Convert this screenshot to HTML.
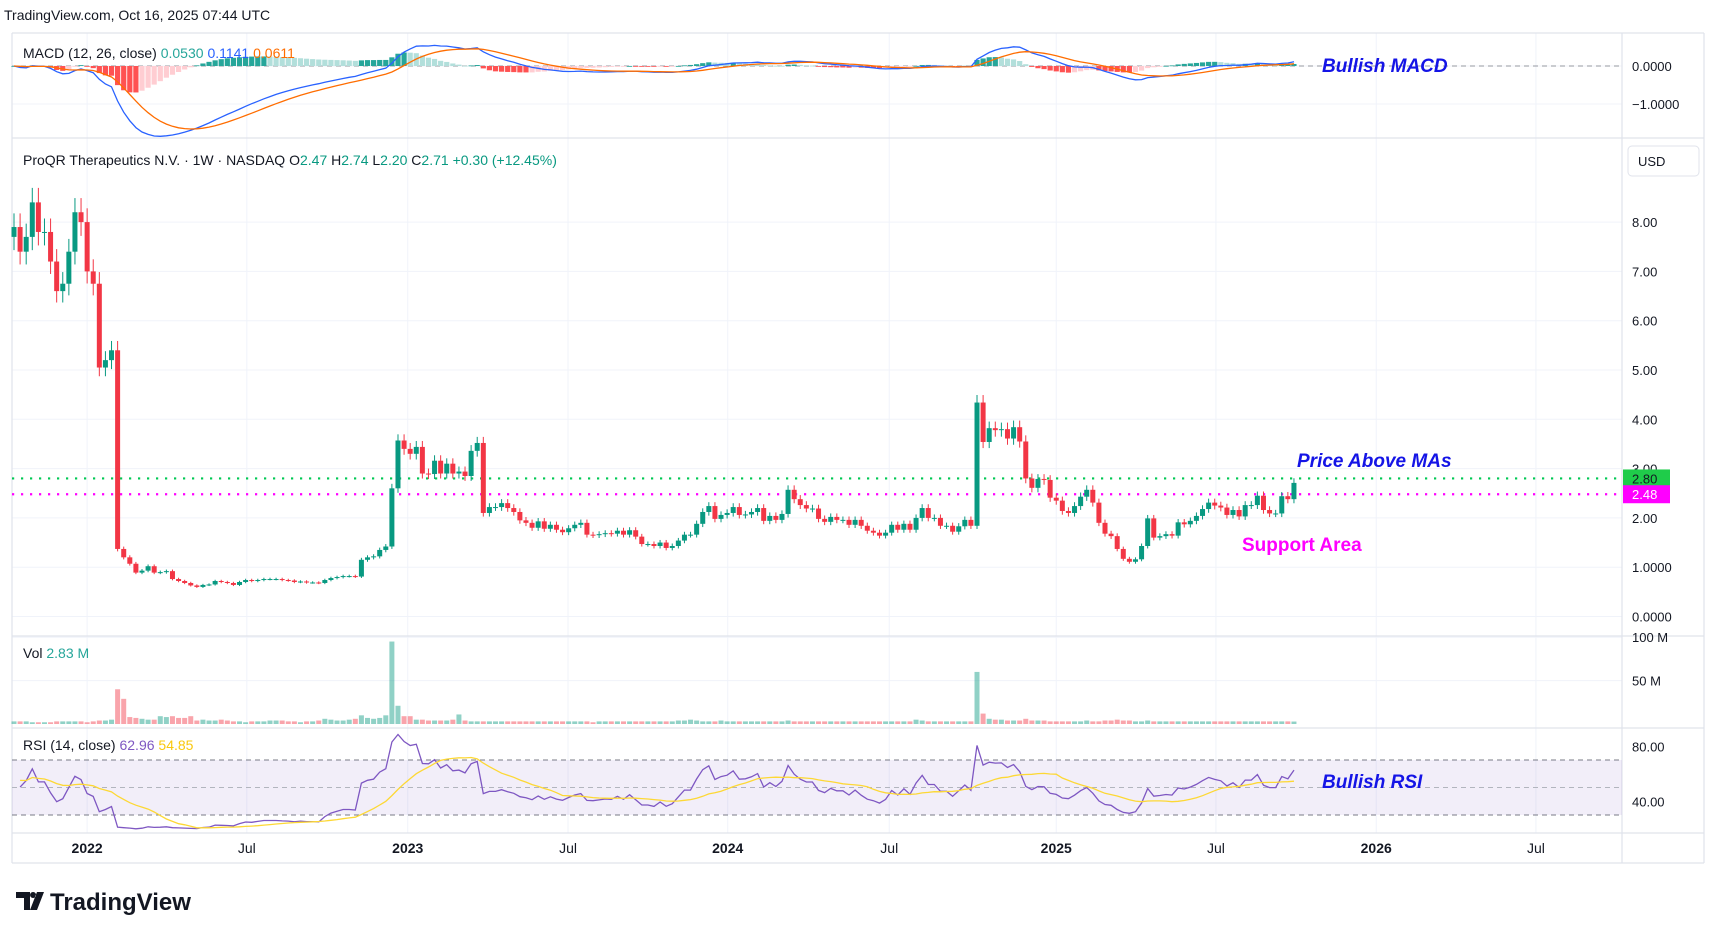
<!DOCTYPE html>
<html><head><meta charset="utf-8">
<style>
html,body{margin:0;padding:0;background:#fff;}
svg{display:block;font-family:"Liberation Sans",sans-serif;}
</style></head>
<body>
<svg id="chart" width="1717" height="938" viewBox="0 0 1717 938" xmlns="http://www.w3.org/2000/svg">
<rect x="0" y="0" width="1717" height="938" fill="#ffffff"/>
<text x="4" y="20" font-size="14" fill="#131722">TradingView.com, Oct 16, 2025 07:44 UTC</text>
<g id="grid"></g>
<g id="panes"></g>
<g id="marks"></g>
<g id="labels"></g>
</svg>
<script>
// ---- data ----
const closes = [7.9,7.4,7.7,8.4,7.8,7.8,7.2,6.6,6.75,7.4,8.2,8.0,7.0,6.75,5.05,5.2,5.4,1.37,1.2,1.07,0.89,0.93,1.02,0.89,0.9,0.92,0.76,0.72,0.68,0.63,0.6,0.64,0.65,0.72,0.7,0.68,0.64,0.7,0.74,0.72,0.74,0.76,0.76,0.76,0.74,0.73,0.7,0.71,0.69,0.69,0.68,0.74,0.78,0.8,0.82,0.82,0.81,1.15,1.2,1.22,1.35,1.42,2.6,3.57,3.4,3.3,
3.44,2.9,2.89,3.16,2.9,3.1,2.9,2.94,2.85,3.36,3.52,2.1,2.22,2.22,2.3,2.2,2.12,1.95,1.9,1.8,1.93,1.78,1.86,1.76,1.71,1.79,1.86,1.9,1.66,1.65,1.67,1.69,1.68,1.74,1.66,1.75,1.62,1.47,1.47,1.43,1.5,1.39,1.43,1.54,1.66,1.66,1.88,2.12,2.24,1.98,2.06,2.1,2.22,
2.06,2.07,2.12,2.2,1.94,2.04,1.96,2.08,2.57,2.38,2.26,2.19,2.19,1.98,1.92,2.02,1.96,1.96,1.86,1.96,1.84,1.74,1.7,1.64,1.7,1.86,1.76,1.88,1.76,2.0,2.2,2.0,2.0,1.84,1.84,1.72,1.83,1.96,1.84,4.34,3.54,3.82,3.78,3.8,3.61,3.84,3.55,2.8,2.61,2.79,
2.77,2.41,2.35,2.14,2.1,2.24,2.43,2.57,2.31,1.9,1.68,1.63,1.37,1.17,1.11,1.16,1.43,1.99,1.6,1.63,1.67,1.64,1.91,1.87,1.94,2.04,2.18,2.31,2.25,2.21,2.06,2.16,2.03,2.26,2.26,2.45,2.16,2.09,2.09,2.44,2.38,2.71];
const volumes = [3,3,3,2,2,2,2,3,3,3, 3,3,2,3,4,4,5,40,29,8, 7,6,5,5,9,8,9,7,7,9, 4,5,4,4,5,4,3,3,2,3, 3,3,4,4,4,3,3,2,3,3, 4,6,5,4,4,5,6,10,7,6, 7,10,95,21,9,9,
5,5,4,4,4,4,5,11,4,3, 3,3,3,3,3,3,3,3,3,3, 3,3,3,3,3,3,3,3,3,2, 3,3,3,3,3,3,3,3,3,3, 3,3,3,4,4,5,4,3,3,3, 4,3,3,
3,3,3,3,3,3,3,3,4,3, 3,3,3,3,3,3,3,3,3,3, 3,3,3,3,3,3,3,3,3,5, 4,3,3,3,3,3,3,3,3,60, 12,6,5,5,4,4,4,6,4,4,
4,3,3,3,3,3,3,4,3,3, 4,4,5,4,4,3,3,4,3,3, 3,3,3,3,3,3,3,3,3,3, 3,3,3,3,3,3,3,3,3,3, 3,2.83];
const firstOpen = 7.7;
const xTickIdx = [12,38.2,64.6,90.9,117.1,143.6,171,197.2,223.5,249.7];
const xTickLabels = ["2022","Jul","2023","Jul","2024","Jul","2025","Jul","2026","Jul"];
const xTickBold = [true,false,true,false,true,false,true,false,true,false];
const priceTicks = [8,7,6,5,4,3,2,1,0];
const priceTickLabels = ["8.00","7.00","6.00","5.00","4.00","3.00","2.00","1.0000","0.0000"];
const levelValues = [2.80,2.48];
const levelLabels = ["2.80","2.48"];

// ---- geometry ----
const L=12, R=1622, OUTR=1704;
const macdTop=33, macdBot=138, priceTop=138, priceBot=636, volTop=636, volBot=728, rsiTop=728, rsiBot=833, axBot=863;
const X0=14, STEP=6.095, LX=1632;
const xI = i => X0 + i*STEP;
const yP = v => 616.5 - v*49.3;
const yM = v => 66 - v*38;
const yV = v => 724 - v*0.868;
const yR = v => 760 - (v-70)*1.375;

const NS="http://www.w3.org/2000/svg";
function mk(tag, attrs, parent){const e=document.createElementNS(NS,tag);for(const k in attrs)e.setAttribute(k,attrs[k]);(parent||document.getElementById('marks')).appendChild(e);return e;}
const grid=document.getElementById('grid'), panes=document.getElementById('panes'), labels=document.getElementById('labels');

const opens = closes.map((c,i)=> i===0 ? firstOpen : closes[i-1]);
const highs = closes.map((c,i)=> Math.max(c,opens[i])*1.035);
const lows = closes.map((c,i)=> Math.min(c,opens[i])*0.965);

xTickIdx.forEach((t,k)=>{
  const x=xI(t);
  let g=mk('line',{x1:x,y1:macdTop,x2:x,y2:rsiBot,stroke:'#f0f3fa','stroke-width':1},grid);
  
  
  let tx=mk('text',{x:x,y:853,'font-size':14,'text-anchor':'middle',fill:'#131722','font-weight':xTickBold[k]?'bold':'normal'},labels);
  tx.textContent=xTickLabels[k];
  
  
});
priceTicks.forEach((v,k)=>{
  const y=yP(v);
  let g=mk('line',{x1:L,y1:y,x2:R,y2:y,stroke:'#f0f3fa','stroke-width':1},grid);
  
  
  let tx=mk('text',{x:LX,y:y+5,'font-size':13,fill:'#131722'},labels);
  tx.textContent=priceTickLabels[k];
  
  
});
[[yM(-1),'−1.0000'],[yM(0),'0.0000']].forEach(p=>{
  let g=mk('line',{x1:L,y1:p[0],x2:R,y2:p[0],stroke:'#f0f3fa'},grid);
  
  
  let tx=mk('text',{x:LX,y:p[0]+5,'font-size':13,fill:'#131722'},labels);
  tx.textContent=p[1];
  
  
});
[[yV(100),'100 M'],[yV(50),'50 M']].forEach(p=>{
  let g=mk('line',{x1:L,y1:p[0],x2:R,y2:p[0],stroke:'#f0f3fa'},grid);
  
  
  let tx=mk('text',{x:LX,y:p[0]+5,'font-size':13,fill:'#131722'},labels);
  tx.textContent=p[1];
  
  
});
[[80,'80.00'],[40,'40.00']].forEach(p=>{
  let tx=mk('text',{x:LX,y:yR(p[0])+5,'font-size':13,fill:'#131722'},labels);
  tx.textContent=p[1];
  
  
});

[[L,macdTop,OUTR,macdTop],[L,axBot,OUTR,axBot],[L,macdTop,L,axBot],[OUTR,macdTop,OUTR,axBot],[R,macdTop,R,axBot],
 [L,priceTop,OUTR,priceTop],[L,volTop,OUTR,volTop],[L,rsiTop,OUTR,rsiTop],[L,rsiBot,OUTR,rsiBot]].forEach(b=>{
  let e=mk('line',{x1:b[0],y1:b[1],x2:b[2],y2:b[3],stroke:'#e0e3eb','stroke-width':1.2},panes);
  
  
});
let zl=mk('line',{x1:L,y1:yM(0),x2:R,y2:yM(0),stroke:'#9598a1','stroke-dasharray':'5,4'},panes);



let band=mk('rect',{x:L,y:yR(70),width:R-L,height:yR(30)-yR(70),fill:'rgba(126,87,194,0.1)'},panes);


[70,50,30].forEach(v=>{
  let e=mk('line',{x1:L,y1:yR(v),x2:R,y2:yR(v),stroke:v===50?'#b2b5be':'#787b86','stroke-dasharray':'5,4'},panes);
  
  
});

function ema(arr,n){const k=2/(n+1);const out=[];arr.forEach((v,i)=>{out.push(i===0?v:v*k+out[i-1]*(1-k));});return out;}
const e12=ema(closes,12), e26=ema(closes,26);
const macd=closes.map((c,i)=>e12[i]-e26[i]);
const sig=ema(macd,9);
const hist=macd.map((m,i)=>m-sig[i]);
hist.forEach((h,i)=>{
  const prev=i>0?hist[i-1]:0;
  const col = h>=0 ? (h>=prev?'#26a69a':'#b2dfdb') : (h<prev?'#ff5252':'#ffcdd2');
  const y0=yM(0), y1=yM(h);
  let b=mk('rect',{x:xI(i)-2.6,y:Math.min(y0,y1),width:5.2,height:Math.max(0.8,Math.abs(y1-y0)),fill:col});
  
  
});
function pathOf(arr,fy,start){return arr.map((v,i)=>i<start?'':((i===start?'M':'L')+xI(i).toFixed(1)+','+fy(v).toFixed(1))).join('');}
let ml=mk('path',{d:pathOf(macd,yM,0),fill:'none',stroke:'#2962ff','stroke-width':1.3});


let sl=mk('path',{d:pathOf(sig,yM,0),fill:'none',stroke:'#ff6d00','stroke-width':1.3});



levelValues.forEach((v,k)=>{
  const col=k===0?'#00c853':'#ff00ff';
  let e=mk('line',{x1:L,y1:yP(v),x2:R,y2:yP(v),stroke:col,'stroke-width':2.2,'stroke-dasharray':'2.2,6.8'});
  
  
});

closes.forEach((c,i)=>{
  const o=opens[i], up=c>=o, col=up?'#089981':'#f23645', x=xI(i);
  let w=mk('line',{x1:x,y1:yP(highs[i]),x2:x,y2:yP(lows[i]),stroke:col,'stroke-width':1});
  
  
  const yt=yP(Math.max(o,c)), yb=yP(Math.min(o,c));
  let b=mk('rect',{x:x-2.5,y:yt,width:5,height:Math.max(1,yb-yt),fill:col});
  
  
});

volumes.forEach((v,i)=>{
  const up=closes[i]>=opens[i];
  let b=mk('rect',{x:xI(i)-2.5,y:yV(v),width:5,height:yV(0)-yV(v),fill:up?'rgba(8,153,129,0.45)':'rgba(242,54,69,0.45)'});
  
  
});

const rsi=[]; let ag=0.12, al=0.08;
closes.forEach((c,i)=>{
  if(i===0){rsi.push(60);return;}
  const d=c-closes[i-1];
  ag=(ag*13+Math.max(d,0))/14; al=(al*13+Math.max(-d,0))/14;
  rsi.push(100-100/(1+ag/al));
});
const rsiMa=rsi.map((v,i)=>{const s=Math.max(0,i-13);let t=0;for(let j=s;j<=i;j++)t+=rsi[j];return t/(i-s+1);});
let rl=mk('path',{d:pathOf(rsi,yR,1),fill:'none',stroke:'#7e57c2','stroke-width':1.3});


let rm=mk('path',{d:pathOf(rsiMa,yR,1),fill:'none',stroke:'#fdd835','stroke-width':1.3});



levelValues.forEach((v,k)=>{
  const y=yP(v);
  let b=mk('rect',{x:R+1,y:y-9,width:47,height:18,fill:k===0?'#1fcc4a':'#ff00ff'},labels);
  
  
  let t=mk('text',{x:R+10,y:y+5,'font-size':13,fill:k===0?'#131722':'#ffffff'},labels);
  t.textContent=levelLabels[k];
  
  
});
</script>

<svg style="position:absolute;left:0;top:0" width="1717" height="938" xmlns="http://www.w3.org/2000/svg">
<g font-family="Liberation Sans, sans-serif" font-size="14">
<text x="23" y="58" fill="#131722">MACD (12, 26, close) <tspan fill="#26a69a">0.0530</tspan> <tspan fill="#2962ff">0.1141</tspan> <tspan fill="#ff6d00">0.0611</tspan></text>
<text x="23" y="165" fill="#131722">ProQR Therapeutics N.V. · 1W · NASDAQ  O<tspan fill="#089981">2.47</tspan>  H<tspan fill="#089981">2.74</tspan>  L<tspan fill="#089981">2.20</tspan>  C<tspan fill="#089981">2.71</tspan> <tspan fill="#089981">+0.30 (+12.45%)</tspan></text>
<text x="23" y="658" fill="#131722">Vol  <tspan fill="#26a69a">2.83 M</tspan></text>
<text x="23" y="750" fill="#131722">RSI (14, close) <tspan fill="#7e57c2">62.96</tspan> <tspan fill="#f9c80e">54.85</tspan></text>
</g>
<rect x="1628" y="146" width="71" height="30" rx="4" fill="#fff" stroke="#e0e3eb"/>
<text x="1638" y="166" font-family="Liberation Sans, sans-serif" font-size="13" fill="#131722">USD</text>
<g font-family="Liberation Sans, sans-serif" font-size="19" font-weight="bold" font-style="italic">
<text x="1322" y="72" fill="#1414e6">Bullish MACD</text>
<text x="1297" y="467" fill="#1414e6">Price Above MAs</text>
<text x="1322" y="788" fill="#1414e6">Bullish RSI</text>
<text x="1242" y="551" fill="#ff00ff" font-style="normal">Support Area</text>
</g>
<g>
<path d="M16 892h14v18h-6v-12h-8z M33 892a3 3 0 1 0 0.1 0z M37 892h7l-7 18h-7z" fill="#131722"/>
<text x="50" y="910" font-family="Liberation Sans, sans-serif" font-size="24" font-weight="bold" fill="#131722">TradingView</text>
</g>
</svg>
</body></html>
